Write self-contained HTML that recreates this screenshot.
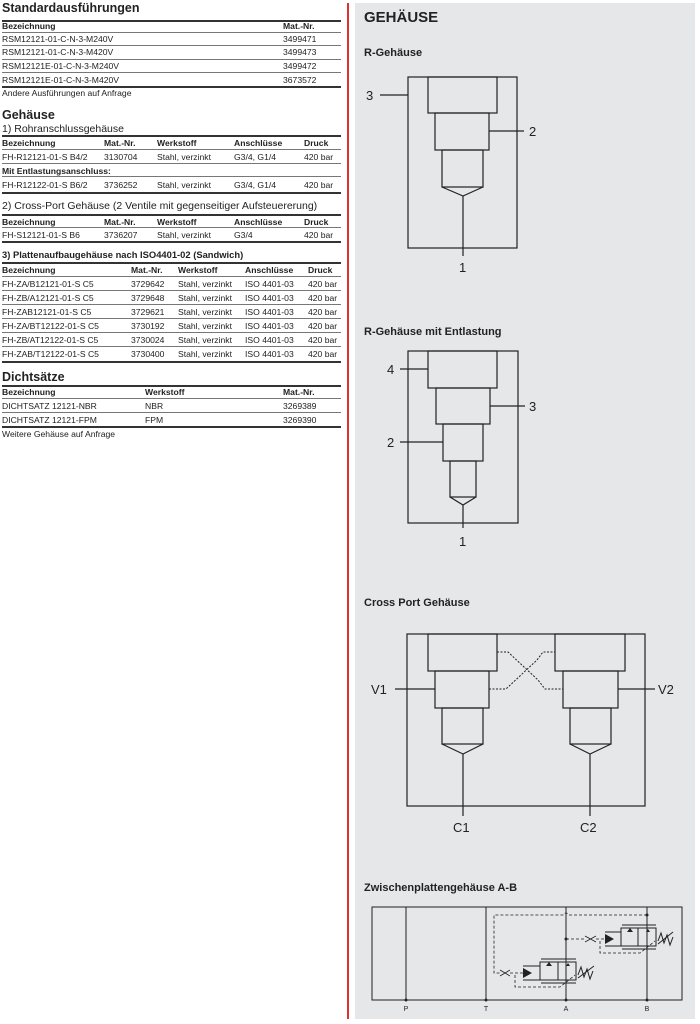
<!DOCTYPE html>
<html><head><meta charset="utf-8"><style>
*{margin:0;padding:0;box-sizing:border-box}
body{width:700px;height:1024px;background:#fff;position:relative;overflow:hidden;font-family:"Liberation Sans",sans-serif;color:#222}
.t{position:absolute;font-size:8.6px;white-space:nowrap;line-height:10px}
.b{font-weight:bold}
.h{position:absolute;font-size:12.5px;font-weight:bold;white-space:nowrap;line-height:14px}
.s{position:absolute;font-size:10.5px;white-space:nowrap;line-height:12px}
.l{position:absolute;left:2px;width:339px;height:1px;background:#777}
.L{position:absolute;left:2px;width:339px;height:2px;background:#333}
</style></head><body>
<!-- Left column -->
<div class="h" style="left:2px;top:1px">Standardausführungen</div>
<div class="L" style="top:20px"></div>
<div class="t b" style="left:2px;top:21px">Bezeichnung</div><div class="t b" style="left:283px;top:21px">Mat.-Nr.</div>
<div class="l" style="top:32px"></div>
<div class="t" style="left:2px;top:34px">RSM12121-01-C-N-3-M240V</div><div class="t" style="left:283px;top:34px">3499471</div>
<div class="l" style="top:45px"></div>
<div class="t" style="left:2px;top:47px">RSM12121-01-C-N-3-M420V</div><div class="t" style="left:283px;top:47px">3499473</div>
<div class="l" style="top:59px"></div>
<div class="t" style="left:2px;top:61px">RSM12121E-01-C-N-3-M240V</div><div class="t" style="left:283px;top:61px">3499472</div>
<div class="l" style="top:72px"></div>
<div class="t" style="left:2px;top:75px">RSM12121E-01-C-N-3-M420V</div><div class="t" style="left:283px;top:75px">3673572</div>
<div class="L" style="top:86px"></div>
<div class="t" style="left:2px;top:88px">Andere Ausführungen auf Anfrage</div>

<div class="h" style="left:2px;top:108px">Gehäuse</div>
<div class="s" style="left:2px;top:123px">1) Rohranschlussgehäuse</div>
<div class="L" style="top:135px"></div>
<div class="t b" style="left:2px;top:138px">Bezeichnung</div><div class="t b" style="left:104px;top:138px">Mat.-Nr.</div><div class="t b" style="left:157px;top:138px">Werkstoff</div><div class="t b" style="left:234px;top:138px">Anschlüsse</div><div class="t b" style="left:304px;top:138px">Druck</div>
<div class="l" style="top:149px"></div>
<div class="t" style="left:2px;top:152px">FH-R12121-01-S B4/2</div><div class="t" style="left:104px;top:152px">3130704</div><div class="t" style="left:157px;top:152px">Stahl, verzinkt</div><div class="t" style="left:234px;top:152px">G3/4, G1/4</div><div class="t" style="left:304px;top:152px">420 bar</div>
<div class="l" style="top:163px"></div>
<div class="t b" style="left:2px;top:166px">Mit Entlastungsanschluss:</div>
<div class="l" style="top:176px"></div>
<div class="t" style="left:2px;top:180px">FH-R12122-01-S B6/2</div><div class="t" style="left:104px;top:180px">3736252</div><div class="t" style="left:157px;top:180px">Stahl, verzinkt</div><div class="t" style="left:234px;top:180px">G3/4, G1/4</div><div class="t" style="left:304px;top:180px">420 bar</div>
<div class="L" style="top:192px"></div>
<div class="s" style="left:2px;top:200px">2) Cross-Port Gehäuse (2 Ventile mit gegenseitiger Aufsteuererung)</div>
<div class="L" style="top:214px"></div>
<div class="t b" style="left:2px;top:217px">Bezeichnung</div><div class="t b" style="left:104px;top:217px">Mat.-Nr.</div><div class="t b" style="left:157px;top:217px">Werkstoff</div><div class="t b" style="left:234px;top:217px">Anschlüsse</div><div class="t b" style="left:304px;top:217px">Druck</div>
<div class="l" style="top:227px"></div>
<div class="t" style="left:2px;top:230px">FH-S12121-01-S B6</div><div class="t" style="left:104px;top:230px">3736207</div><div class="t" style="left:157px;top:230px">Stahl, verzinkt</div><div class="t" style="left:234px;top:230px">G3/4</div><div class="t" style="left:304px;top:230px">420 bar</div>
<div class="L" style="top:241px"></div>
<div class="t b" style="left:2px;top:250px;font-size:9.4px">3) Plattenaufbaugehäuse nach ISO4401-02 (Sandwich)</div>
<div class="L" style="top:262px"></div>
<div class="t b" style="left:2px;top:265px">Bezeichnung</div><div class="t b" style="left:131px;top:265px">Mat.-Nr.</div><div class="t b" style="left:178px;top:265px">Werkstoff</div><div class="t b" style="left:245px;top:265px">Anschlüsse</div><div class="t b" style="left:308px;top:265px">Druck</div>
<div class="l" style="top:276px"></div>
<div class="t" style="left:2px;top:279px">FH-ZA/B12121-01-S C5</div><div class="t" style="left:131px;top:279px">3729642</div><div class="t" style="left:178px;top:279px">Stahl, verzinkt</div><div class="t" style="left:245px;top:279px">ISO 4401-03</div><div class="t" style="left:308px;top:279px">420 bar</div>
<div class="l" style="top:290px"></div>
<div class="t" style="left:2px;top:293px">FH-ZB/A12121-01-S C5</div><div class="t" style="left:131px;top:293px">3729648</div><div class="t" style="left:178px;top:293px">Stahl, verzinkt</div><div class="t" style="left:245px;top:293px">ISO 4401-03</div><div class="t" style="left:308px;top:293px">420 bar</div>
<div class="l" style="top:304px"></div>
<div class="t" style="left:2px;top:307px">FH-ZAB12121-01-S C5</div><div class="t" style="left:131px;top:307px">3729621</div><div class="t" style="left:178px;top:307px">Stahl, verzinkt</div><div class="t" style="left:245px;top:307px">ISO 4401-03</div><div class="t" style="left:308px;top:307px">420 bar</div>
<div class="l" style="top:318px"></div>
<div class="t" style="left:2px;top:321px">FH-ZA/BT12122-01-S C5</div><div class="t" style="left:131px;top:321px">3730192</div><div class="t" style="left:178px;top:321px">Stahl, verzinkt</div><div class="t" style="left:245px;top:321px">ISO 4401-03</div><div class="t" style="left:308px;top:321px">420 bar</div>
<div class="l" style="top:332px"></div>
<div class="t" style="left:2px;top:335px">FH-ZB/AT12122-01-S C5</div><div class="t" style="left:131px;top:335px">3730024</div><div class="t" style="left:178px;top:335px">Stahl, verzinkt</div><div class="t" style="left:245px;top:335px">ISO 4401-03</div><div class="t" style="left:308px;top:335px">420 bar</div>
<div class="l" style="top:346px"></div>
<div class="t" style="left:2px;top:349px">FH-ZAB/T12122-01-S C5</div><div class="t" style="left:131px;top:349px">3730400</div><div class="t" style="left:178px;top:349px">Stahl, verzinkt</div><div class="t" style="left:245px;top:349px">ISO 4401-03</div><div class="t" style="left:308px;top:349px">420 bar</div>
<div class="L" style="top:361px"></div>
<div class="h" style="left:2px;top:370px">Dichtsätze</div>
<div class="L" style="top:385px"></div>
<div class="t b" style="left:2px;top:387px">Bezeichnung</div><div class="t b" style="left:145px;top:387px">Werkstoff</div><div class="t b" style="left:283px;top:387px">Mat.-Nr.</div>
<div class="l" style="top:398px"></div>
<div class="t" style="left:2px;top:401px">DICHTSATZ 12121-NBR</div><div class="t" style="left:145px;top:401px">NBR</div><div class="t" style="left:283px;top:401px">3269389</div>
<div class="l" style="top:412px"></div>
<div class="t" style="left:2px;top:415px">DICHTSATZ 12121-FPM</div><div class="t" style="left:145px;top:415px">FPM</div><div class="t" style="left:283px;top:415px">3269390</div>
<div class="L" style="top:426px"></div>
<div class="t" style="left:2px;top:429px">Weitere Gehäuse auf Anfrage</div>

<!-- red line -->
<div style="position:absolute;left:347px;top:3px;width:2px;height:1016px;background:#e03030"></div>
<!-- gray panel -->
<div style="position:absolute;left:355px;top:3px;width:340px;height:1016px;background:#e6e7e9"></div>

<svg style="position:absolute;left:0;top:0" width="700" height="1024" font-family="Liberation Sans, sans-serif">
<g fill="#222">
<text x="364" y="22" font-size="15" font-weight="bold">GEHÄUSE</text>
<text x="364" y="56" font-size="11" font-weight="bold">R-Gehäuse</text>
<text x="364" y="335" font-size="11" font-weight="bold">R-Gehäuse mit Entlastung</text>
<text x="364" y="606" font-size="11" font-weight="bold">Cross Port Gehäuse</text>
<text x="364" y="891" font-size="11" font-weight="bold">Zwischenplattengehäuse A-B</text>
</g>
<g fill="none" stroke="#222" stroke-width="1.2">
<!-- R-Gehäuse -->
<rect x="408" y="77" width="109" height="171"/>
<rect x="428" y="77" width="69" height="36"/>
<rect x="435" y="113" width="54" height="37"/>
<rect x="442" y="150" width="41" height="37"/>
<path d="M442 187 L463 196 L483 187 M463 196 V256 M380 95 H408 M489 131 H524"/>
<!-- Entlastung -->
<rect x="408" y="351" width="110" height="172"/>
<rect x="428" y="351" width="69" height="37"/>
<rect x="436" y="388" width="54" height="36"/>
<rect x="443" y="424" width="40" height="37"/>
<rect x="450" y="461" width="26" height="36"/>
<path d="M450 497 L463 505 L476 497 M463 505 V528 M400 369 H428 M490 406 H525 M400 442 H443"/>
<!-- Cross port -->
<rect x="407" y="634" width="238" height="172"/>
<rect x="428" y="634" width="69" height="37"/>
<rect x="435" y="671" width="54" height="37"/>
<rect x="442" y="708" width="41" height="36"/>
<path d="M442 744 L463 754 L483 744 M463 754 V816"/>
<rect x="555" y="634" width="70" height="37"/>
<rect x="563" y="671" width="55" height="37"/>
<rect x="570" y="708" width="41" height="36"/>
<path d="M570 744 L590 754 L611 744 M590 754 V816"/>
<path d="M395 689 H435 M618 689 H655"/>
<path stroke-dasharray="2,1.5" stroke-width="1" d="M497 652 H508 L538 680 L545 689 H563 M489 689 H506 L537 660 L543 652 H555"/>
<!-- Zwischen -->
<rect x="372" y="907" width="310" height="93" stroke-width="1"/>
<path stroke-width="1" d="M406 907 V1000 M486 907 V1000 M566 907 V1000 M647 907 V1000"/>
<path stroke-width="0.8" stroke-dasharray="3,2" d="M647 915 H569 Q566 911 563 915 H494 V973 H500 M510 973 H523 M515 975 V987 H560 L575 975 M566 939 H585 M596 939 H605 M600 941 V953 H640 L655 941"/>
<path stroke-width="0.8" d="M500 970 L510 976 M500 976 L510 970 M585 936 L596 942 M585 942 L596 936"/>
<rect x="540" y="962" width="36" height="18" stroke-width="1"/>
<path stroke-width="1" d="M558 962 V980 M523 966 H540 M523 980 H540 M541 959 H576 M541 983 H576 M578 975 l3 -8 3 10 3 -8 3 10 3 -8 M578 978 L594 966"/>
<rect x="621" y="928" width="35" height="18" stroke-width="1"/>
<path stroke-width="1" d="M638 928 V946 M605 932 H621 M605 946 H621 M622 925 H656 M622 949 H656 M658 941 l3 -8 3 10 3 -8 3 10 3 -8 M658 944 L673 932"/>
</g>
<g fill="#222">
<path d="M523 968 L532 973 L523 978 Z M605 934 L614 939 L605 944 Z"/>
<path d="M546 966 l3 -4 3 4 Z M566 966 l2 -3 2 3Z M627 932 l3 -4 3 4 Z M646 932 l2 -3 2 3Z"/>
<circle cx="566" cy="939" r="1.5"/><circle cx="647" cy="915" r="1.5"/>
<circle cx="406" cy="1000" r="1.5"/><circle cx="486" cy="1000" r="1.5"/><circle cx="566" cy="1000" r="1.5"/><circle cx="647" cy="1000" r="1.5"/>
</g>
<g fill="#222" font-size="13">
<text x="459" y="272">1</text><text x="366" y="100">3</text><text x="529" y="136">2</text>
<text x="459" y="546">1</text><text x="387" y="374">4</text><text x="529" y="411">3</text><text x="387" y="447">2</text>
<text x="371" y="694">V1</text><text x="658" y="694">V2</text>
<text x="453" y="832">C1</text><text x="580" y="832">C2</text>
</g>
<g fill="#222" font-size="7" text-anchor="middle">
<text x="406" y="1011">P</text><text x="486" y="1011">T</text><text x="566" y="1011">A</text><text x="647" y="1011">B</text>
</g>
</svg>
</body></html>
